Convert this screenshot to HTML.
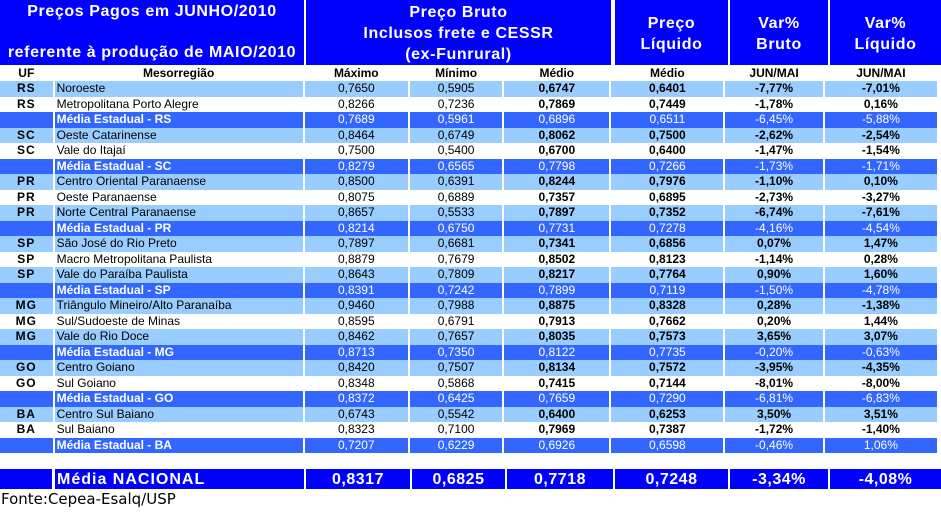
<!DOCTYPE html>
<html><head><meta charset="utf-8">
<style>
body{margin:0;width:941px;height:512px;background:#fff;overflow:hidden;position:relative;font-family:"Liberation Sans",sans-serif}
.h{position:absolute;background:#0000ff;color:#fff;font-weight:bold;font-size:16px;text-align:center;letter-spacing:0.6px}
table{position:absolute;left:-2px;top:65px;border-collapse:separate;border-spacing:2px 0;table-layout:fixed;font-size:12px}
td{height:15.5px;padding:0;line-height:15px;text-align:center;white-space:nowrap;overflow:hidden;color:#000}
tr.s td{font-weight:bold;height:16px}
td.u{font-weight:bold;letter-spacing:1px}
td.m{text-align:left;padding-left:2px}
td.b{font-weight:bold}
tr.l td{background:#99ccff}
tr.d td{background:#3366ff;color:#fff;font-weight:normal}
tr.d td.m{font-weight:bold}
.nat{position:absolute;top:469px;height:20px;background:#0000ff;color:#fff;font-weight:bold;font-size:16px;text-align:center;line-height:21px;letter-spacing:0.5px}
</style></head><body>
<div class="h" style="left:0;top:0;width:304px;height:65px"><div style="position:absolute;top:3px;width:100%">Preços Pagos em JUNHO/2010</div><div style="position:absolute;top:44px;width:100%">referente à produção de MAIO/2010</div></div>
<div class="h" style="left:306px;top:0;width:305px;height:65px;line-height:21px;padding-top:2px;box-sizing:border-box">Preço Bruto<br>Inclusos frete e CESSR<br>(ex-Funrural)</div>
<div class="h" style="left:615px;top:0;width:113px;height:65px;line-height:21px;padding-top:13px;box-sizing:border-box">Preço<br>Líquido</div>
<div class="h" style="left:730px;top:0;width:98px;height:65px;line-height:21px;padding-top:13px;box-sizing:border-box">Var%<br>Bruto</div>
<div class="h" style="left:830px;top:0;width:111px;height:65px;line-height:21px;padding-top:13px;box-sizing:border-box">Var%<br>Líquido</div>
<table>
<colgroup><col style="width:53px"><col style="width:249px"><col style="width:104px"><col style="width:93px"><col style="width:106px"><col style="width:113px"><col style="width:98px"><col style="width:113px"></colgroup>
<tr class="s"><td>UF</td><td>Mesorregião</td><td>Máximo</td><td>Mínimo</td><td>Médio</td><td>Médio</td><td>JUN/MAI</td><td>JUN/MAI</td></tr>
<tr class="l"><td class="u">RS</td><td class="m">Noroeste</td><td>0,7650</td><td>0,5905</td><td class="b">0,6747</td><td class="b">0,6401</td><td class="b">-7,77%</td><td class="b">-7,01%</td></tr>
<tr><td class="u">RS</td><td class="m">Metropolitana Porto Alegre</td><td>0,8266</td><td>0,7236</td><td class="b">0,7869</td><td class="b">0,7449</td><td class="b">-1,78%</td><td class="b">0,16%</td></tr>
<tr class="d"><td></td><td class="m">Média Estadual - RS</td><td>0,7689</td><td>0,5961</td><td>0,6896</td><td>0,6511</td><td>-6,45%</td><td>-5,88%</td></tr>
<tr class="l"><td class="u">SC</td><td class="m">Oeste Catarinense</td><td>0,8464</td><td>0,6749</td><td class="b">0,8062</td><td class="b">0,7500</td><td class="b">-2,62%</td><td class="b">-2,54%</td></tr>
<tr><td class="u">SC</td><td class="m">Vale do Itajaí</td><td>0,7500</td><td>0,5400</td><td class="b">0,6700</td><td class="b">0,6400</td><td class="b">-1,47%</td><td class="b">-1,54%</td></tr>
<tr class="d"><td></td><td class="m">Média Estadual - SC</td><td>0,8279</td><td>0,6565</td><td>0,7798</td><td>0,7266</td><td>-1,73%</td><td>-1,71%</td></tr>
<tr class="l"><td class="u">PR</td><td class="m">Centro Oriental Paranaense</td><td>0,8500</td><td>0,6391</td><td class="b">0,8244</td><td class="b">0,7976</td><td class="b">-1,10%</td><td class="b">0,10%</td></tr>
<tr><td class="u">PR</td><td class="m">Oeste Paranaense</td><td>0,8075</td><td>0,6889</td><td class="b">0,7357</td><td class="b">0,6895</td><td class="b">-2,73%</td><td class="b">-3,27%</td></tr>
<tr class="l"><td class="u">PR</td><td class="m">Norte Central Paranaense</td><td>0,8657</td><td>0,5533</td><td class="b">0,7897</td><td class="b">0,7352</td><td class="b">-6,74%</td><td class="b">-7,61%</td></tr>
<tr class="d"><td></td><td class="m">Média Estadual - PR</td><td>0,8214</td><td>0,6750</td><td>0,7731</td><td>0,7278</td><td>-4,16%</td><td>-4,54%</td></tr>
<tr class="l"><td class="u">SP</td><td class="m">São José do Rio Preto</td><td>0,7897</td><td>0,6681</td><td class="b">0,7341</td><td class="b">0,6856</td><td class="b">0,07%</td><td class="b">1,47%</td></tr>
<tr><td class="u">SP</td><td class="m">Macro Metropolitana Paulista</td><td>0,8879</td><td>0,7679</td><td class="b">0,8502</td><td class="b">0,8123</td><td class="b">-1,14%</td><td class="b">0,28%</td></tr>
<tr class="l"><td class="u">SP</td><td class="m">Vale do Paraíba Paulista</td><td>0,8643</td><td>0,7809</td><td class="b">0,8217</td><td class="b">0,7764</td><td class="b">0,90%</td><td class="b">1,60%</td></tr>
<tr class="d"><td></td><td class="m">Média Estadual - SP</td><td>0,8391</td><td>0,7242</td><td>0,7899</td><td>0,7119</td><td>-1,50%</td><td>-4,78%</td></tr>
<tr class="l"><td class="u">MG</td><td class="m">Triângulo Mineiro/Alto Paranaíba</td><td>0,9460</td><td>0,7988</td><td class="b">0,8875</td><td class="b">0,8328</td><td class="b">0,28%</td><td class="b">-1,38%</td></tr>
<tr><td class="u">MG</td><td class="m">Sul/Sudoeste de Minas</td><td>0,8595</td><td>0,6791</td><td class="b">0,7913</td><td class="b">0,7662</td><td class="b">0,20%</td><td class="b">1,44%</td></tr>
<tr class="l"><td class="u">MG</td><td class="m">Vale do Rio Doce</td><td>0,8462</td><td>0,7657</td><td class="b">0,8035</td><td class="b">0,7573</td><td class="b">3,65%</td><td class="b">3,07%</td></tr>
<tr class="d"><td></td><td class="m">Média Estadual - MG</td><td>0,8713</td><td>0,7350</td><td>0,8122</td><td>0,7735</td><td>-0,20%</td><td>-0,63%</td></tr>
<tr class="l"><td class="u">GO</td><td class="m">Centro Goiano</td><td>0,8420</td><td>0,7507</td><td class="b">0,8134</td><td class="b">0,7572</td><td class="b">-3,95%</td><td class="b">-4,35%</td></tr>
<tr><td class="u">GO</td><td class="m">Sul Goiano</td><td>0,8348</td><td>0,5868</td><td class="b">0,7415</td><td class="b">0,7144</td><td class="b">-8,01%</td><td class="b">-8,00%</td></tr>
<tr class="d"><td></td><td class="m">Média Estadual - GO</td><td>0,8372</td><td>0,6425</td><td>0,7659</td><td>0,7290</td><td>-6,81%</td><td>-6,83%</td></tr>
<tr class="l"><td class="u">BA</td><td class="m">Centro Sul Baiano</td><td>0,6743</td><td>0,5542</td><td class="b">0,6400</td><td class="b">0,6253</td><td class="b">3,50%</td><td class="b">3,51%</td></tr>
<tr><td class="u">BA</td><td class="m">Sul Baiano</td><td>0,8323</td><td>0,7100</td><td class="b">0,7969</td><td class="b">0,7387</td><td class="b">-1,72%</td><td class="b">-1,40%</td></tr>
<tr class="d"><td></td><td class="m">Média Estadual - BA</td><td>0,7207</td><td>0,6229</td><td>0,6926</td><td>0,6598</td><td>-0,46%</td><td>1,06%</td></tr>
</table>
<div class="nat" style="left:0;width:52px"></div>
<div class="nat" style="left:55px;width:249px;text-align:left;padding-left:2px;box-sizing:border-box;letter-spacing:1px">Média NACIONAL</div>
<div class="nat" style="left:306px;width:104px">0,8317</div>
<div class="nat" style="left:412px;width:93px">0,6825</div>
<div class="nat" style="left:507px;width:106px">0,7718</div>
<div class="nat" style="left:615px;width:113px">0,7248</div>
<div class="nat" style="left:730px;width:98px">-3,34%</div>
<div class="nat" style="left:830px;width:111px">-4,08%</div>
<div style="position:absolute;left:1px;top:490px;font-family:'DejaVu Sans',sans-serif;font-size:15px;color:#000">Fonte:Cepea-Esalq/USP</div>
</body></html>
